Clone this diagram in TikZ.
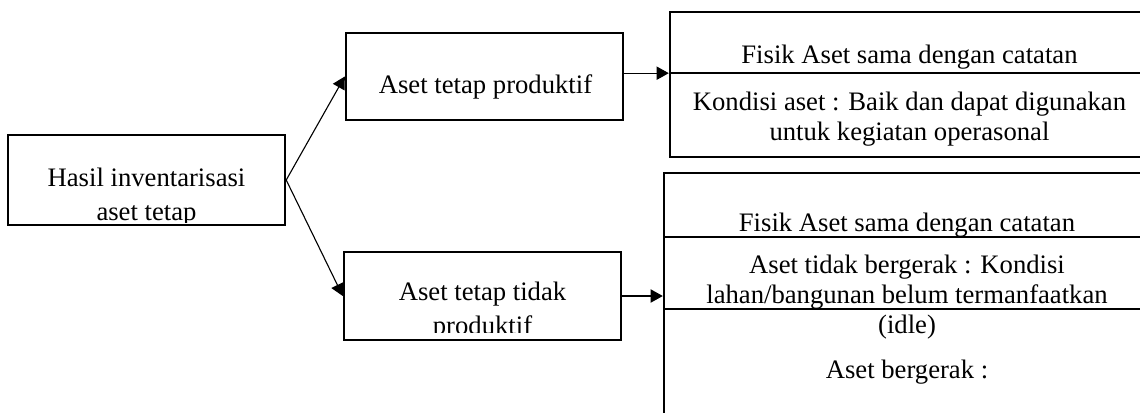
\documentclass[tikz,border=0pt]{standalone}
\usepackage{fontspec}
\setmainfont{Liberation Serif}
\usepackage{tikz}
\usetikzlibrary{arrows.meta}
\newcommand\pxu{0.45pt}

\begin{document}
\begin{tikzpicture}[x=0.45pt, y=-0.45pt,
    box/.style={draw, rectangle, line width=1.1pt, inner sep=0pt, minimum width=277*\pxu},
    cell/.style={draw, rectangle, line width=1.1pt, inner sep=0pt},
    txt/.style={align=center, inner sep=0pt, font=\fontsize{12}{13.5}\selectfont},
    cut/.style={align=center, inner sep=0pt, font=\fontsize{12}{15}\selectfont},
    flow/.style={-{Triangle[length=5.5pt, width=6pt]}, line width=0.5pt}]

    \clip (0,0) rectangle (1140,412);

    % Left and middle boxes
    \node[box, minimum height=90*\pxu] (hasil) at (146.5,180) {};
    \node[box, minimum height=87*\pxu] (prod) at (484.5,76.5) {};
    \node[box, minimum height=88*\pxu] (tidak) at (482.5,296) {};

    % Texts cut at the bottom of their frame
    \begin{scope}
        \clip (8,135) rectangle (285,222);
        \node[cut, anchor=base] (hasiltxt) at (146.5,220) {Hasil inventarisasi\\aset tetap};
    \end{scope}
    \node[txt, anchor=base] (prodtxt) at (485.5,93) {Aset tetap produktif};
    \begin{scope}
        \clip (344,252) rectangle (621,332);
        \node[cut, anchor=base] (tidaktxt) at (482.5,334) {Aset tetap tidak\\produktif};
    \end{scope}

    % Right table, upper part
    \node[cell, minimum width=480*\pxu, minimum height=61*\pxu] (fisikA) at (910,42.5) {};
    \node[cell, minimum width=480*\pxu, minimum height=84*\pxu] (kondisi) at (910,115) {};
    \node[txt, anchor=base] at (909.5,63) {Fisik Aset sama dengan catatan};
    \node[txt, anchor=base] at (909.5,140) {Kondisi aset : Baik dan dapat digunakan\\untuk kegiatan operasonal};

    % Right table, lower part
    \node[cell, minimum width=486*\pxu, minimum height=64*\pxu] (fisikB) at (907,205) {};
    \node[cell, minimum width=486*\pxu, minimum height=72*\pxu] (tdkgerak) at (907,273) {};
    \node[cell, minimum width=486*\pxu, minimum height=121*\pxu] (gerak) at (907,369.5) {};
    \node[txt, anchor=base] at (907,231) {Fisik Aset sama dengan catatan};
    \node[txt, anchor=base] at (907,333) {Aset tidak bergerak : Kondisi\\lahan/bangunan belum termanfaatkan\\(idle)};
    \node[txt, anchor=base] at (907,378) {Aset bergerak :};

    % Connectors
    \draw[flow] (hasil.east) -- (prod.west);
    \draw[flow] (hasil.east) -- (tidak.west);
    \draw[flow] ([yshift=1.5pt]prod.east) -- ([yshift=1.5pt]prod.east -| fisikA.west);
    \draw[flow] (tidak.east) -- (tidak.east -| fisikB.west);
\end{tikzpicture}
\end{document}
